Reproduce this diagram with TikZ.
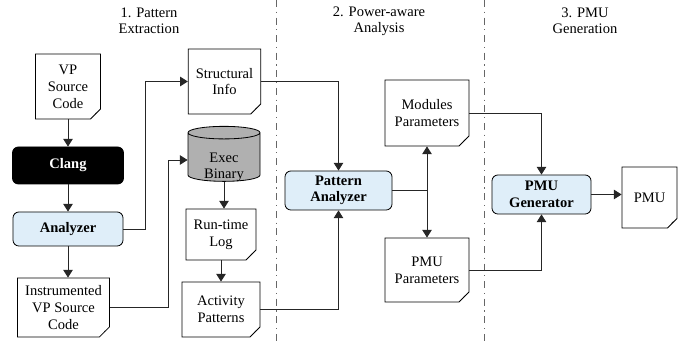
\documentclass[tikz,border=0pt]{standalone}
\usepackage[svgnames]{xcolor}
\usepackage{fontspec}
\setmainfont{Liberation Serif}
\usetikzlibrary{arrows.meta,shapes.geometric,shapes.misc}
\definecolor{toolblue}{HTML}{DFEEF9}
\definecolor{bingray}{HTML}{B0B0B0}
\tikzstyle{none}=[inner sep=0pt]
\tikzstyle{heading}=[align=center,font=\fontsize{12.4}{13.8}\selectfont]
\tikzstyle{doc}=[chamfered rectangle,chamfered rectangle corners=south east,
  chamfered rectangle angle=45,chamfered rectangle xsep=5.5pt,
  draw=Black,fill=white,line width=0.7,inner sep=1pt,align=center,
  font=\fontsize{12.4}{14.4}\selectfont,
  path picture={
    \draw [fill=black!30,line width=0.5]
      ([yshift=5.5pt]path picture bounding box.south east)
      -- ([xshift=-4pt,yshift=5pt]path picture bounding box.south east)
      -- ([xshift=-5.5pt]path picture bounding box.south east);
  }]
\tikzstyle{tool}=[rectangle,rounded corners=5pt,draw=Black,fill=toolblue,
  line width=0.7,inner sep=1pt,align=center,
  font=\fontsize{12.4}{14}\selectfont\bfseries]
\tikzstyle{store}=[cylinder,shape border rotate=90,aspect=0.3,draw=Black,
  fill=bingray,line width=0.7,inner sep=1pt,align=center,
  font=\fontsize{12.4}{14.4}\selectfont]
\tikzstyle{storetext}=[align=center,font=\fontsize{12.4}{14.4}\selectfont]
\tikzstyle{arrow}=[-{Triangle[length=6.5pt,width=8pt]},draw=black!85,line width=0.75]
\tikzstyle{simple}=[-,draw=black!85,line width=0.75]
\tikzstyle{phase}=[-,draw=black!60,line width=0.7,dash pattern=on 6pt off 4pt on 1pt off 4pt]

\begin{document}
\begin{tikzpicture}[x=0.3mm,y=0.3mm]
  \useasboundingbox (0, 0) rectangle (694, 343);
  % phase separators
  \coordinate (p1) at (276, 343);
  \coordinate (p2) at (276, 0);
  \coordinate (p3) at (484, 343);
  \coordinate (p4) at (484, 0);
  \draw [style=phase] (p1) to (p2);
  \draw [style=phase] (p3) to (p4);
  % headings
  \node [style=heading] (0) at (149, 322) {1. Pattern\\Extraction};
  \node [style=heading] (1) at (379, 322) {2. Power-aware\\Analysis};
  \node [style=heading] (2) at (585, 322) {3. PMU\\Generation};
  % pattern extraction
  \node [style=doc, minimum width=19.5mm, minimum height=19.5mm] (3) at (68, 256.5) {VP\\Source\\Code};
  \node [style=tool, fill=Black, text=white, minimum width=33.3mm, minimum height=11.1mm] (4) at (68, 177.5) {Clang};
  \node [style=tool, minimum width=33mm, minimum height=10.2mm] (5) at (68, 114) {Analyzer};
  \node [style=doc, minimum width=25.5mm, minimum height=17.7mm] (6) at (63.5, 35.5) {Instrumented\\VP Source\\Code};
  \node [style=doc, minimum width=20.1mm, minimum height=19.5mm] (7) at (224.5, 261.5) {Structural\\Info};
  % text sits low in the drum, so it goes on as a label
  \node [style=store, minimum width=21.6mm, minimum height=16.5mm,
    label={[style=storetext,yshift=-8pt]center:{Exec\\Binary}}] (8) at (224, 185) {\phantom{Binary}\\\phantom{Binary}};
  \node [style=doc, minimum width=21mm, minimum height=15.3mm] (9) at (221, 108.5) {Run-time\\Log};
  \node [style=doc, minimum width=23.4mm, minimum height=16.5mm] (10) at (221, 33.5) {Activity\\Patterns};
  % power-aware analysis
  \node [style=tool, minimum width=32.1mm, minimum height=11.7mm] (11) at (338.5, 152.5) {Pattern\\Analyzer};
  \node [style=doc, minimum width=25.2mm, minimum height=19.8mm] (12) at (427, 230) {Modules\\Parameters};
  \node [style=doc, minimum width=25.2mm, minimum height=19.2mm] (13) at (427, 73) {PMU\\Parameters};
  % pmu generation
  \node [style=tool, minimum width=29.7mm, minimum height=11.7mm] (14) at (541.5, 148.5) {PMU\\Generator};
  \node [style=doc, minimum width=16.5mm, minimum height=18.3mm] (15) at (649.5, 145.5) {PMU};
  % bends
  \coordinate (16) at (145, 261.5);
  \coordinate (17) at (168, 183);
  \coordinate (18) at (427, 152.5);
  \draw [style=arrow] (3.south) to (3.south |- 4.north);
  \draw [style=arrow] (4.south) to (4.south |- 5.north);
  \draw [style=arrow] (5.south) to (5.south |- 6.north);
  \draw [style=arrow] (5.east) -| (16) -- (7.west);
  \draw [style=arrow] (6.east) -| (17) -- (17 -| 8.west);
  \draw [style=arrow] (8.south) to (8.south |- 9.north);
  \draw [style=arrow] (9.south) to (9.south |- 10.north);
  \draw [style=arrow] (7.east) -| (11.north);
  \draw [style=arrow] (10.east) -| (11.south);
  \draw [style=simple] (11.east) to (18);
  \draw [style=arrow] (18) to (12.south);
  \draw [style=arrow] (18) to (13.north);
  \draw [style=arrow] (12.east) -| (14.north);
  \draw [style=arrow] (13.east) -| (14.south);
  \draw [style=arrow] (14.east) to (14.east -| 15.west);
\end{tikzpicture}
\end{document}
